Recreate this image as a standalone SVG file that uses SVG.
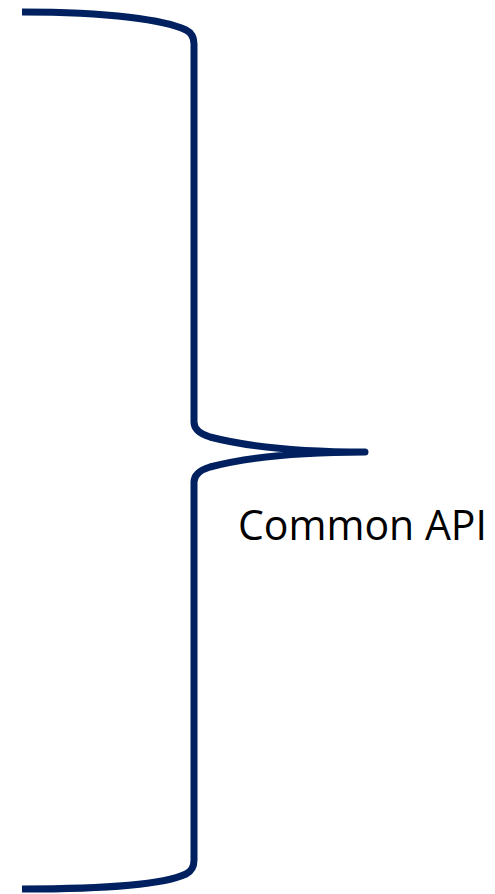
<svg xmlns="http://www.w3.org/2000/svg" width="495" height="894" viewBox="0 0 495 894">
<style>
.brace{fill:none;stroke:#002060;stroke-width:7;stroke-linejoin:round}
.lbl{font-family:"Open Sans","Noto Sans","Liberation Sans",sans-serif;font-size:42px;fill:#000}
</style>
<rect width="495" height="894" fill="#fff"/>
<g id="brace">
<path class="brace" d="M22,12 C110,12 165,20 186,30 Q194,34 194,44 V422 Q194,432 210,437 C260,450 320,452 365,452 C320,452 260,454 210,467 Q194,472 194,482 V860 Q194,870 186,874 C165,884 110,889 22,889"/>
</g>
<g id="label">
<text class="lbl" x="238" y="540" textLength="249" lengthAdjust="spacingAndGlyphs">Common API</text>
</g>
</svg>
